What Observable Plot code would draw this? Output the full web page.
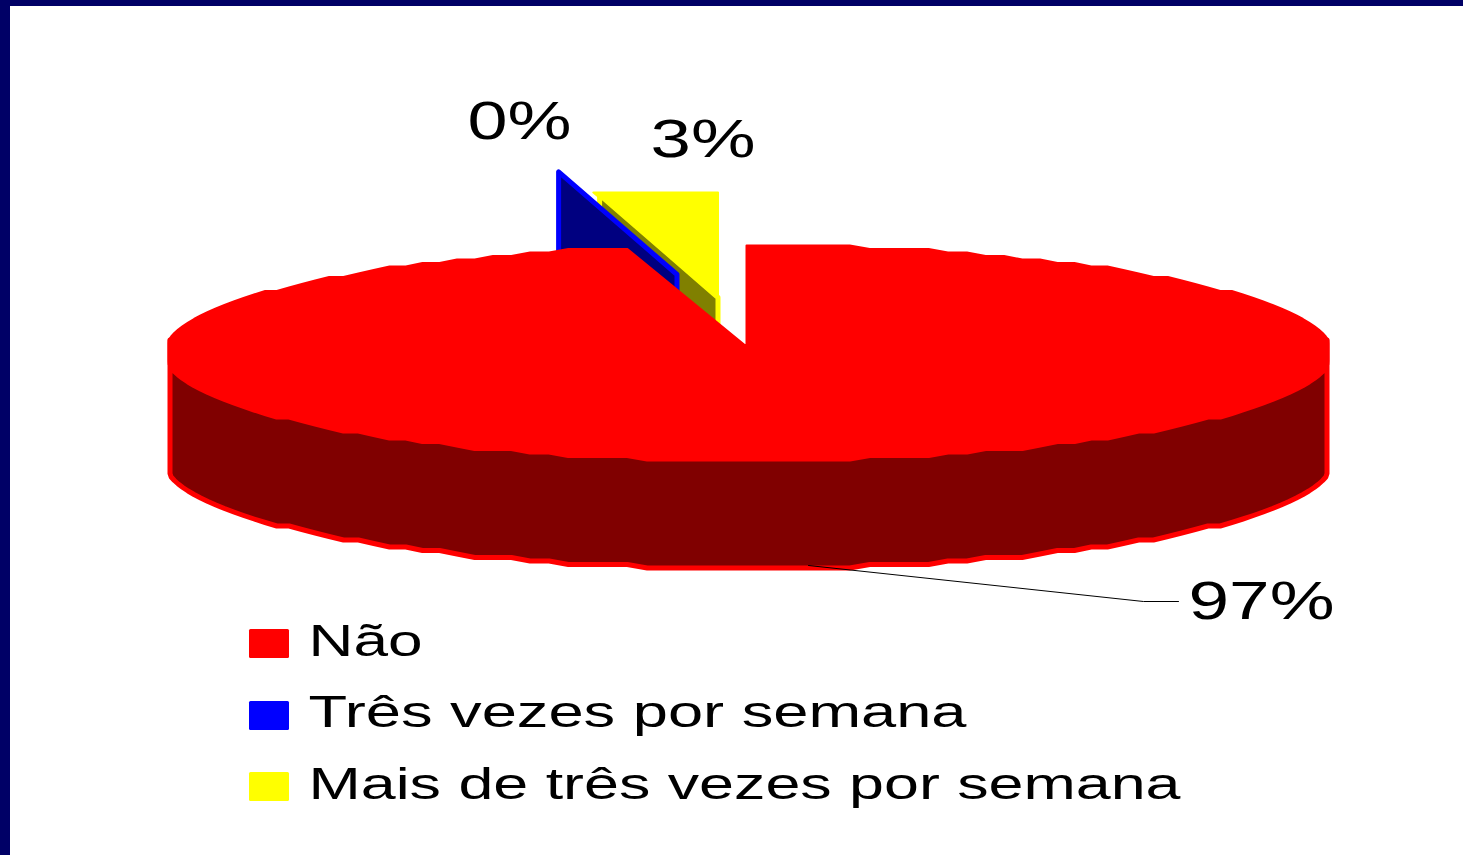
<!DOCTYPE html>
<html>
<head>
<meta charset="utf-8">
<style>html,body{margin:0;padding:0;background:#fff;overflow:hidden}svg{display:block}</style>
<script src="https://cdn.jsdelivr.net/npm/d3@7"></script>
<script src="https://cdn.jsdelivr.net/npm/@observablehq/plot@0.6"></script>
</head>
<body>
<script>
// Data
const categories = ["Não", "Três vezes por semana", "Mais de três vezes por semana"];
const shares = [96.67, 0, 3.33];
const percentLabels = ["97%", "0%", "3%"];

// Styles
const faceColors = ["#ff0000", "#0000ff", "#ffff00"];
const wallColors = ["#800000", "#000080", "#808000"];
const frameColor = "#000066";
const font = "Liberation Sans, Arial, sans-serif";

// Pie geometry (screen units of the identity scales)
const main = {cx: 748, cy: 352, a: 583, b: 107, clamp: 580, apexX: 746, apexY: 346, depth: 109};
const pulled = {a: 570, b: 105, depth: 108, faceA: 600};
const blueApex = [676.5, 274];
const yellowApex = [717.5, 297];
const step = 2, gridY = 3.5;

const rad = (d) => d * Math.PI / 180;
const deg = (s) => s * 3.6;
const snap = (y) => Math.round(y / gridY) * gridY;
function rim(g, t, clamp, dy = 0) {
  const x = g.a * Math.sin(rad(t));
  return [g.cx + Math.max(-clamp, Math.min(clamp, x)), snap(g.cy - g.b * Math.cos(rad(t))) + dy];
}
const sweep = (from, to) => d3.range(from, to, step).concat([to]);

const redEnd = deg(shares[0]);
const redFace = [[main.apexX, main.apexY], [main.apexX, snap(main.cy - main.b)]]
  .concat(sweep(0, redEnd).map((t) => rim(main, t, main.clamp)));
const wallUpper = sweep(84, 276).map((t) => rim(main, t, main.clamp - 1.5));
const wallLower = wallUpper.map(([x, y]) => [x, y + main.depth]).reverse();
const redWall = wallUpper.concat(wallLower);

function pulledRim(apex, t) {
  return [apex[0] + pulled.a * Math.sin(rad(t)), apex[1] - pulled.b * Math.cos(rad(t))];
}
const edgeAngle = redEnd - 360; // shared cut of the two small slices
const yellowFace = [
  yellowApex,
  [yellowApex[0] + pulled.faceA * Math.sin(rad(edgeAngle)), yellowApex[1] - pulled.b],
  [yellowApex[0], yellowApex[1] - pulled.b]
];
const drop = (p) => [p[0], p[1] + pulled.depth];
const yellowRim = pulledRim(yellowApex, edgeAngle);
const yellowWall = [yellowApex, yellowRim, drop(yellowRim), drop(yellowApex)];
const blueRim = pulledRim(blueApex, edgeAngle);
const blueWall = [blueApex, blueRim, drop(blueRim), drop(blueApex)];

// Layout of the text
const legendX = 308, legendWidths = [114, 658, 872], legendBase = [655, 726, 798];
const swatchTop = [629, 701, 772];
const pctPlace = [[1188, 618, 146], [467, 138, 104], [650, 156, 105]];
const leader = [[808, 565], [1143, 601], [1178, 601]];

const poly = (pts, fill, stroke, strokeWidth) => Plot.line(pts, {
  x: (d) => d[0], y: (d) => d[1], curve: "linear-closed",
  fill, stroke, strokeWidth, strokeLinejoin: "round"
});

const legendRows = categories.map((name, i) => ({
  name, color: faceColors[i], y1: swatchTop[i], y2: swatchTop[i] + 29, base: legendBase[i], w: legendWidths[i]
}));
const pctRows = percentLabels.map((label, i) => ({label, x: pctPlace[i][0], y: pctPlace[i][1], w: pctPlace[i][2]}));

const chart = Plot.plot({
  width: 1463, height: 855, margin: 0,
  style: {background: "#fff", overflow: "hidden"},
  x: {domain: [0, 1463], range: [0, 1463], axis: null},
  y: {domain: [0, 855], range: [0, 855], axis: null},
  marks: [
    Plot.rect([0], {x1: 0, x2: 1463, y1: 0, y2: 6, fill: frameColor}),
    Plot.rect([0], {x1: 0, x2: 10, y1: 0, y2: 855, fill: frameColor}),
    poly(yellowFace, faceColors[2], faceColors[2], 2),
    poly(yellowWall, wallColors[2], faceColors[2], 5),
    poly(blueWall, wallColors[1], faceColors[1], 5),
    poly(redWall, wallColors[0], faceColors[0], 5),
    poly(redFace, faceColors[0], faceColors[0], 2),
    Plot.line(leader, {x: (d) => d[0], y: (d) => d[1], stroke: "#000", strokeWidth: 1}),
    Plot.rect(legendRows, {x1: 249, x2: 289, y1: "y1", y2: "y2", fill: "color", rx: 1.5}),
    Plot.text(legendRows, {x: legendX, y: "base", text: "name", textAnchor: "start", lineAnchor: "bottom",
      fontSize: 44, fontFamily: font, fill: "#000"}),
    Plot.text(pctRows, {x: "x", y: "y", text: "label", textAnchor: "start", lineAnchor: "bottom",
      fontSize: 53, fontFamily: font, fill: "#000"})
  ]
});
document.body.appendChild(chart);

// The reference's lettering is stretched horizontally: fit each label to its width.
const widths = new Map([...legendRows.map((r) => [r.name, r.w]), ...pctRows.map((r) => [r.label, r.w])]);
d3.select(chart).selectAll("text").each(function () {
  const w = widths.get(this.textContent);
  if (w) { this.setAttribute("textLength", w); this.setAttribute("lengthAdjust", "spacingAndGlyphs"); }
});
</script>
</body>
</html>
